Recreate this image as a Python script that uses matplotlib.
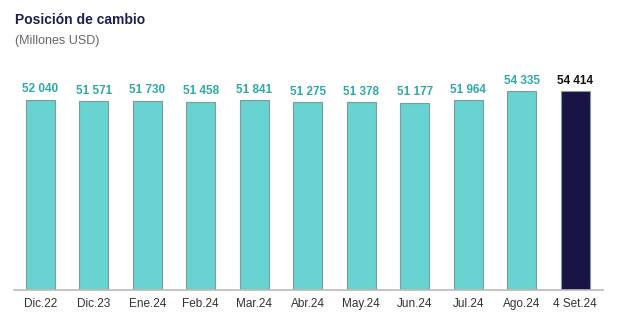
import matplotlib.pyplot as plt

categorias = ['Dic.22', 'Dic.23', 'Ene.24', 'Feb.24', 'Mar.24', 'Abr.24',
              'May.24', 'Jun.24', 'Jul.24', 'Ago.24', '4 Set.24']
valores = [52040, 51571, 51730, 51458, 51841, 51275, 51378, 51177, 51964,
           54335, 54414]
etiquetas = ['52 040', '51 571', '51 730', '51 458', '51 841', '51 275',
             '51 378', '51 177', '51 964', '54 335', '54 414']

plt.rcParams['font.family'] = ['Liberation Sans', 'DejaVu Sans']

fig = plt.figure(figsize=(6.2, 3.32), dpi=100)
ax = fig.add_axes([0.0226, 0.1265, 0.95, 0.661])

colores = ['#68d3d0'] * (len(valores) - 1) + ['#1a1446']
x = range(len(categorias))
ax.bar(x, valores, width=0.54, color=colores, edgecolor='#7f9a9a', linewidth=0.8)

for i, (v, t) in enumerate(zip(valores, etiquetas)):
  col = '#111111' if i == len(valores) - 1 else '#2fa9a6'
  ax.text(i, v + 1200, t, ha='center', va='bottom', fontsize=8.5,
          fontweight='bold', color=col)

ax.set_xlim(-0.49, 10.52)
ax.set_ylim(0, 60000)
ax.set_xticks(list(x))
ax.set_xticklabels(categorias, fontsize=8.5, color='#333333')
ax.tick_params(axis='x', length=0, pad=6)
ax.set_yticks([])
for s in ['top', 'right', 'left']:
  ax.spines[s].set_visible(False)
ax.spines['bottom'].set_color('#bbbbbb')
ax.spines['bottom'].set_linewidth(1.2)

fig.text(0.024, 0.94, 'Posición de cambio', fontsize=10, fontweight='bold',
         color='#1f1f4f', va='center')
fig.text(0.024, 0.878, '(Millones USD)', fontsize=9, color='#666666', va='center')

fig.savefig('out.png', dpi=100)
